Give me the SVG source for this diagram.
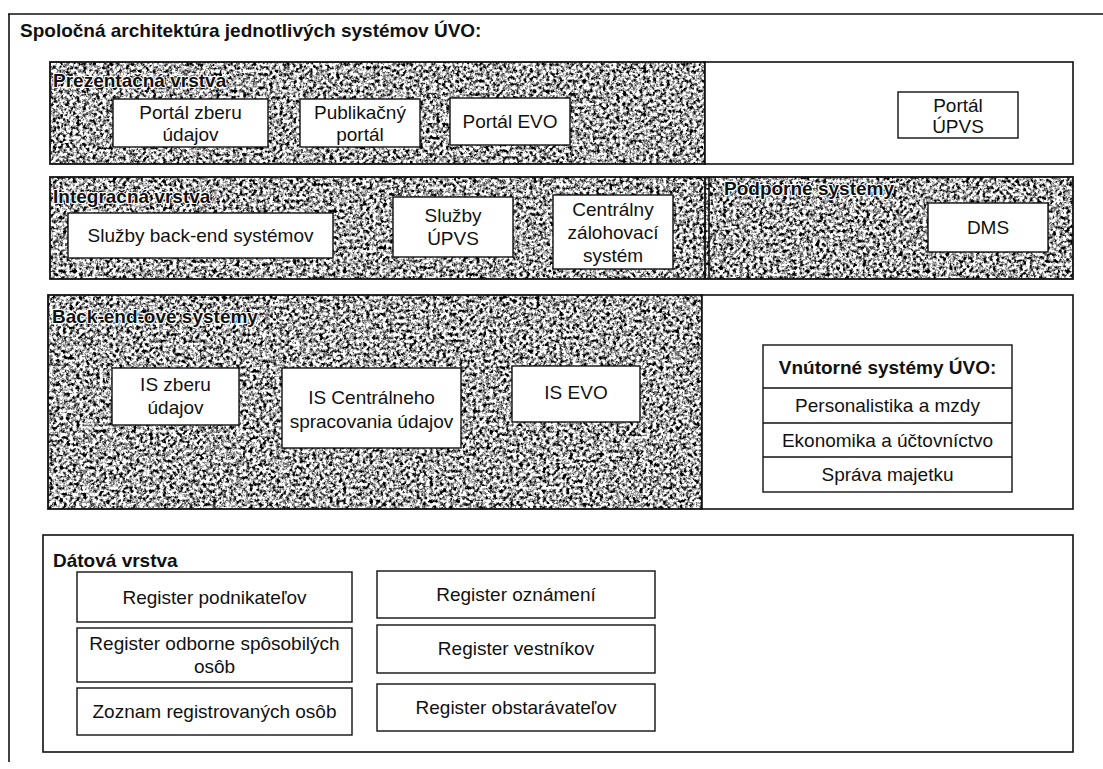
<svg xmlns="http://www.w3.org/2000/svg" width="1103" height="769" viewBox="0 0 1103 769">
<defs>
<filter id="noise" filterUnits="objectBoundingBox" x="0" y="0" width="1" height="1" color-interpolation-filters="sRGB">
<feTurbulence type="fractalNoise" baseFrequency="0.3" numOctaves="3" seed="7" result="t"/>
<feColorMatrix in="t" type="matrix" values="0.33 0.33 0.33 0 0  0.33 0.33 0.33 0 0  0.33 0.33 0.33 0 0  0 0 0 0 1" result="g"/>
<feComponentTransfer in="g">
<feFuncR type="linear" slope="6" intercept="-2.3"/>
<feFuncG type="linear" slope="6" intercept="-2.3"/>
<feFuncB type="linear" slope="6" intercept="-2.3"/>
</feComponentTransfer>
</filter>
<style>
.frame{fill:none;stroke:#111;stroke-width:1.6}
.tex{fill:#888;filter:url(#noise)}
.layer{fill:none;stroke:#111;stroke-width:1.8}
.wlayer{fill:#fff;stroke:#111;stroke-width:1.6}
.box{fill:#fff;stroke:#111;stroke-width:1.4}
.t{font-family:"Liberation Sans",Arial,sans-serif;font-size:19px;fill:#111;text-anchor:middle}
.h{font-family:"Liberation Sans",Arial,sans-serif;font-size:19px;font-weight:bold;fill:#111}
.hg{paint-order:stroke;stroke:#fff;stroke-width:2.2px;stroke-linejoin:round}
</style>
</defs>
<rect width="1103" height="769" fill="#fff"/>

<g id="frame">
<line class="frame" x1="8" y1="14" x2="1103" y2="14"/>
<line class="frame" x1="9" y1="14" x2="9" y2="762"/>
<text class="h" x="20" y="37">Spoločná architektúra jednotlivých systémov ÚVO:</text>
</g>

<g id="presentation-layer">
<rect class="tex" x="50" y="62" width="655" height="102"/>
<rect class="layer" x="50" y="62" width="655" height="102"/>
<rect class="wlayer" x="705" y="62" width="368" height="102"/>
<text class="h hg" x="53" y="87">Prezentačná vrstva</text>
</g>
<g id="portal-zberu">
<rect class="box" x="113" y="99" width="155" height="48"/>
<text class="t" x="190.5" y="119">Portál zberu</text>
<text class="t" x="190.5" y="141">údajov</text>
</g>
<g id="publikacny-portal">
<rect class="box" x="300" y="99" width="120" height="48"/>
<text class="t" x="360" y="119">Publikačný</text>
<text class="t" x="360" y="141">portál</text>
</g>
<g id="portal-evo">
<rect class="box" x="450" y="98" width="120" height="47"/>
<text class="t" x="510" y="128">Portál EVO</text>
</g>
<g id="portal-upvs">
<rect class="box" x="898" y="92" width="120" height="46"/>
<text class="t" x="958" y="112">Portál</text>
<text class="t" x="958" y="133">ÚPVS</text>
</g>

<g id="integration-layer">
<rect class="tex" x="50" y="177" width="1023" height="102"/>
<rect class="layer" x="50" y="177" width="1023" height="102"/>
<line class="layer" x1="705" y1="177" x2="705" y2="279"/>
<line class="frame" x1="709" y1="177" x2="709" y2="279" stroke-width="1"/>
<text class="h hg" x="53" y="203">Integračná vrstva</text>
<text class="h hg" x="724" y="195">Podporné systémy</text>
</g>
<g id="sluzby-backend">
<rect class="box" x="68" y="213" width="265" height="45"/>
<text class="t" x="200.5" y="242">Služby back-end systémov</text>
</g>
<g id="sluzby-upvs">
<rect class="box" x="393" y="197" width="120" height="60"/>
<text class="t" x="453" y="222">Služby</text>
<text class="t" x="453" y="245">ÚPVS</text>
</g>
<g id="centralny-zalohovaci">
<rect class="box" x="553" y="195" width="120" height="74"/>
<text class="t" x="613" y="216">Centrálny</text>
<text class="t" x="613" y="239">zálohovací</text>
<text class="t" x="613" y="262">systém</text>
</g>
<g id="dms">
<rect class="box" x="928" y="203" width="120" height="49"/>
<text class="t" x="988" y="234">DMS</text>
</g>

<g id="backend-layer">
<rect class="tex" x="48" y="295" width="654" height="214"/>
<rect class="layer" x="48" y="295" width="654" height="214"/>
<rect class="wlayer" x="702" y="295" width="371" height="214"/>
<text class="h hg" x="52" y="323">Back-end-ové systémy</text>
</g>
<g id="is-zberu">
<rect class="box" x="112" y="368" width="127" height="57"/>
<text class="t" x="175.5" y="391">IS zberu</text>
<text class="t" x="175.5" y="414">údajov</text>
</g>
<g id="is-centralneho">
<rect class="box" x="282" y="368" width="179" height="80"/>
<text class="t" x="371.5" y="404">IS Centrálneho</text>
<text class="t" x="371.5" y="428">spracovania údajov</text>
</g>
<g id="is-evo">
<rect class="box" x="512" y="366" width="128" height="56"/>
<text class="t" x="576" y="399">IS EVO</text>
</g>
<g id="vnutorne-systemy">
<rect class="box" x="763" y="345" width="249" height="147"/>
<line class="box" x1="763" y1="388" x2="1012" y2="388"/>
<line class="box" x1="763" y1="423" x2="1012" y2="423"/>
<line class="box" x1="763" y1="457" x2="1012" y2="457"/>
<text class="h" x="887.5" y="374" text-anchor="middle">Vnútorné systémy ÚVO:</text>
<text class="t" x="887.5" y="412">Personalistika a mzdy</text>
<text class="t" x="887.5" y="447">Ekonomika a účtovníctvo</text>
<text class="t" x="887.5" y="481">Správa majetku</text>
</g>

<g id="data-layer">
<rect class="wlayer" x="43" y="535" width="1030" height="217"/>
<text class="h" x="53" y="567">Dátová vrstva</text>
</g>
<g id="reg-podnikatelov">
<rect class="box" x="77" y="572" width="275" height="50"/>
<text class="t" x="214.5" y="604">Register podnikateľov</text>
</g>
<g id="reg-odborne">
<rect class="box" x="77" y="628" width="275" height="54"/>
<text class="t" x="214.5" y="650">Register odborne spôsobilých</text>
<text class="t" x="214.5" y="673">osôb</text>
</g>
<g id="zoznam-registrovanych">
<rect class="box" x="77" y="688" width="275" height="47"/>
<text class="t" x="214.5" y="718">Zoznam registrovaných osôb</text>
</g>
<g id="reg-oznameni">
<rect class="box" x="377" y="571" width="278" height="47"/>
<text class="t" x="516" y="601">Register oznámení</text>
</g>
<g id="reg-vestnikov">
<rect class="box" x="377" y="625" width="278" height="48"/>
<text class="t" x="516" y="655">Register vestníkov</text>
</g>
<g id="reg-obstaravatelov">
<rect class="box" x="377" y="684" width="278" height="47"/>
<text class="t" x="516" y="714">Register obstarávateľov</text>
</g>

<g id="connectors"></g>
</svg>
